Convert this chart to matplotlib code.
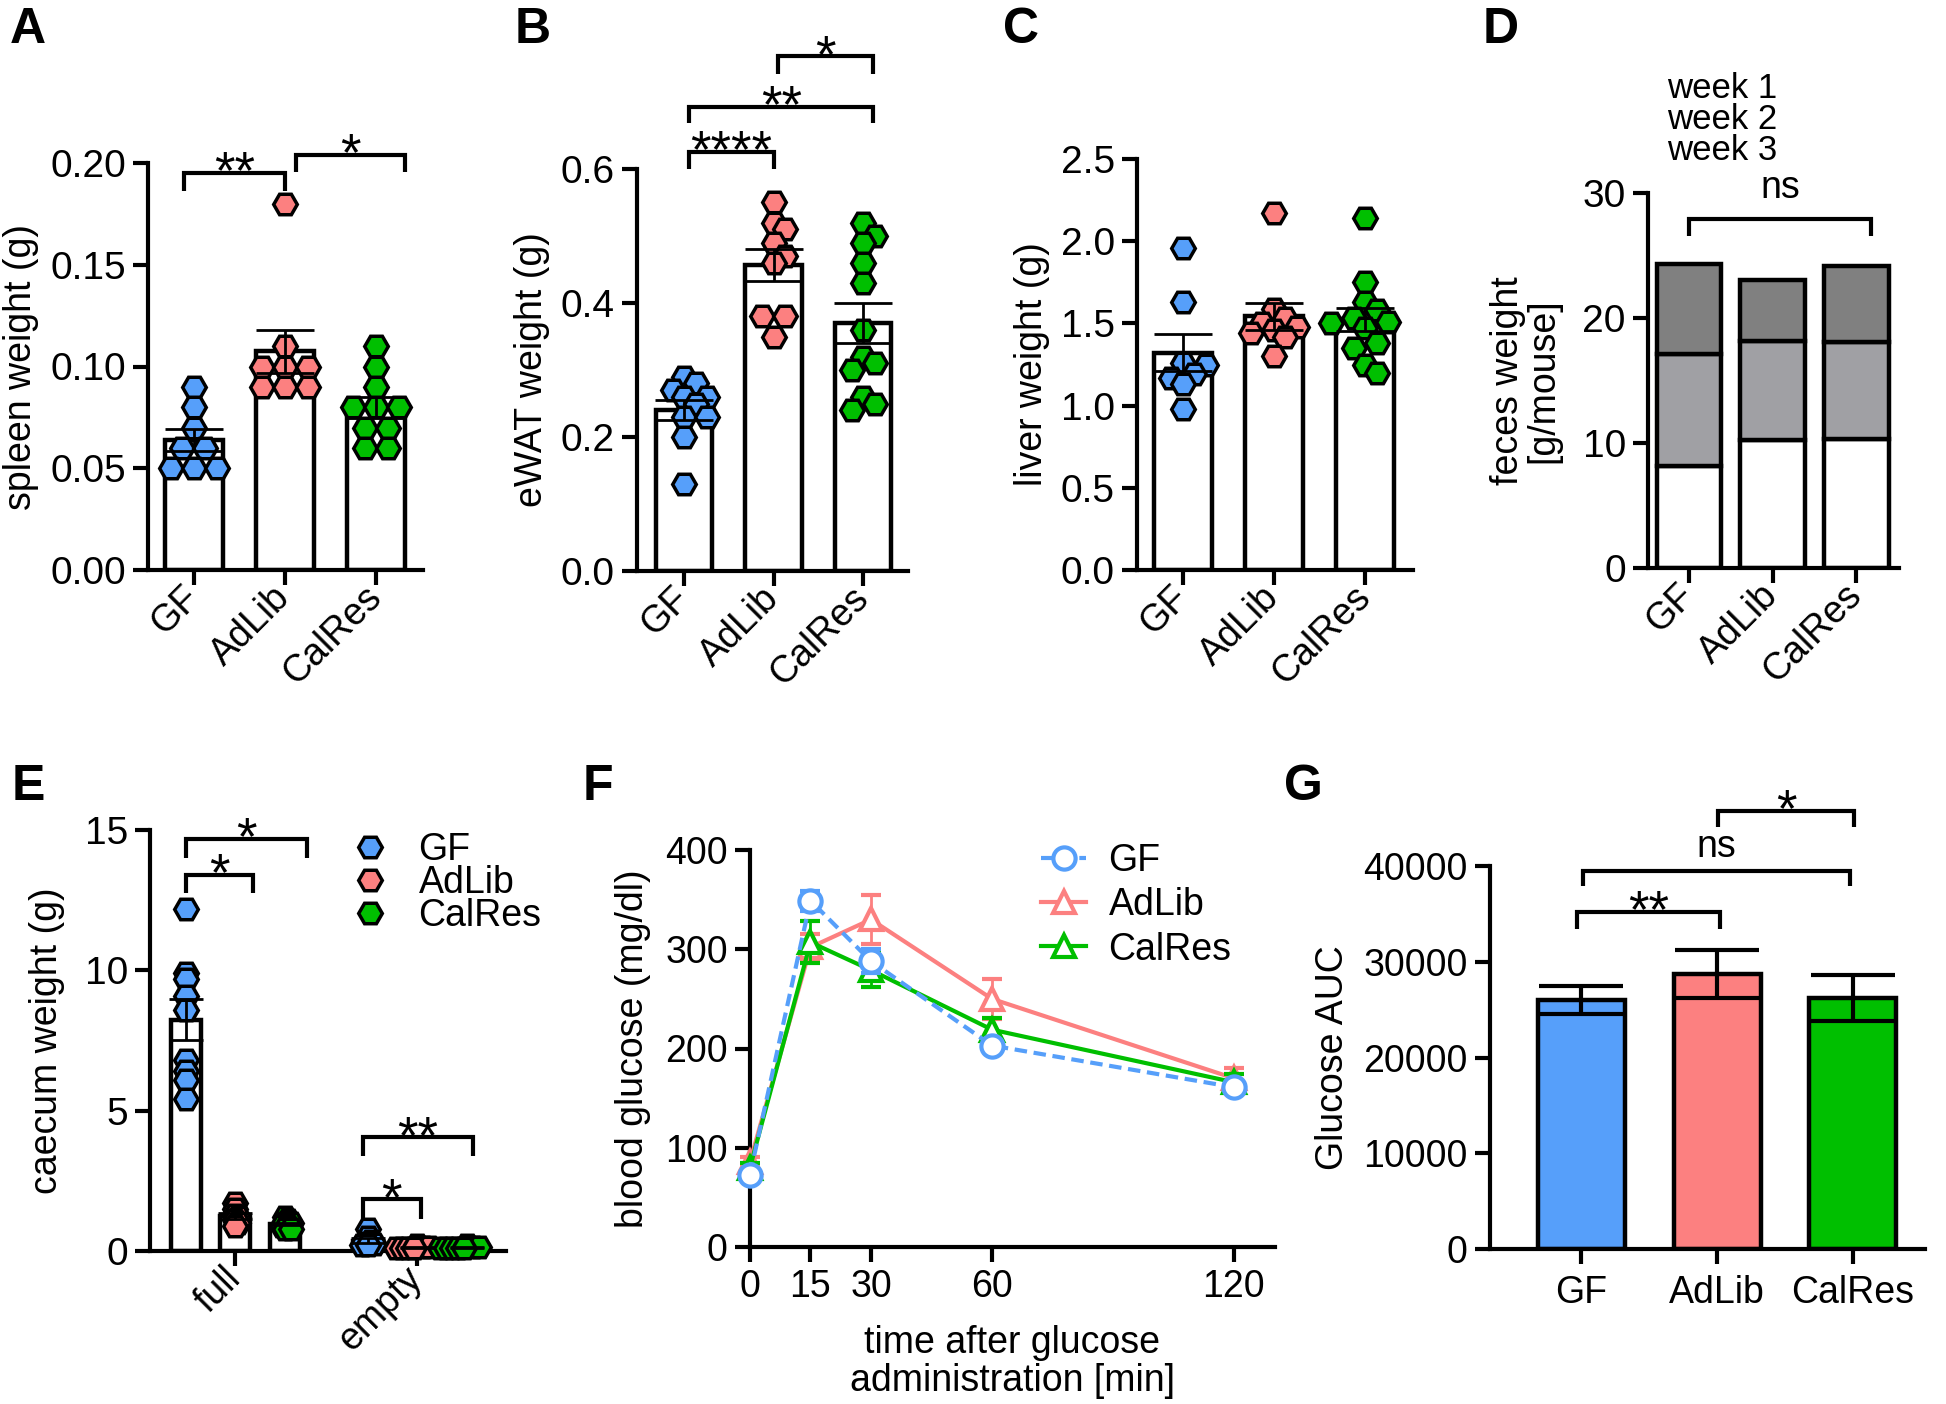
import numpy as np
import matplotlib
matplotlib.use('Agg')
import matplotlib.pyplot as plt
from matplotlib.lines import Line2D

plt.rcParams['font.family'] = ['Liberation Sans', 'DejaVu Sans']
plt.rcParams['font.size'] = 27
plt.rcParams['axes.linewidth'] = 3

groups = ['GF', 'AdLib', 'CalRes']
colors = ['#569ffa', '#fc8080', '#00bf00']

# A: spleen weight (g)
spleen_gf = [0.09, 0.08, 0.07, 0.06, 0.06, 0.05, 0.05, 0.05]
spleen_adlib = [0.18, 0.11, 0.10, 0.10, 0.10, 0.09, 0.09, 0.09]
spleen_calres = [0.11, 0.10, 0.09, 0.08, 0.08, 0.08, 0.07, 0.07, 0.06, 0.06]

# B: eWAT weight (g)
ewat_gf = [0.29, 0.28, 0.27, 0.26, 0.26, 0.25, 0.23, 0.23, 0.20, 0.13]
ewat_adlib = [0.55, 0.52, 0.51, 0.49, 0.47, 0.46, 0.38, 0.38, 0.35]
ewat_calres = [0.52, 0.50, 0.49, 0.46, 0.43, 0.36, 0.32, 0.31, 0.30, 0.26, 0.25, 0.24]

# C: liver weight (g)
liver_gf = [1.96, 1.63, 1.26, 1.25, 1.19, 1.17, 1.13, 0.98]
liver_adlib = [2.17, 1.59, 1.53, 1.50, 1.48, 1.46, 1.44, 1.42, 1.30]
liver_calres = [2.14, 1.75, 1.63, 1.58, 1.53, 1.51, 1.50, 1.47, 1.38, 1.35, 1.25, 1.20]

# D: feces weight per week (g/mouse)
week_labels = ['week 1', 'week 2', 'week 3']
feces_week1 = [8.2, 10.25, 10.35]
feces_week2 = [8.9, 7.9, 7.7]
feces_week3 = [7.2, 4.9, 6.1]
week_colors = ['white', '#a0a0a4', '#808080']

# E: caecum weight (g)
caecum_states = ['full', 'empty']
caecum_full = [
    [12.2, 9.9, 9.7, 9.1, 8.6, 6.8, 6.4, 6.1, 5.4],
    [1.7, 1.5, 1.3, 1.2, 1.1, 1.0, 0.9],
    [1.2, 1.1, 1.0, 1.0, 0.9, 0.9, 0.8, 0.8],
]
caecum_empty = [
    [0.8, 0.5, 0.35, 0.3, 0.25, 0.2, 0.2],
    [0.2, 0.15, 0.15, 0.1, 0.1, 0.1, 0.1],
    [0.2, 0.15, 0.15, 0.1, 0.1, 0.1, 0.1, 0.1],
]

# F: glucose tolerance test
gtt_time = [0, 15, 30, 60, 120]
gtt_gf = [73, 349, 288, 203, 161]
gtt_gf_sem = [4, 10, 12, 6, 5]
gtt_adlib = [86, 302, 330, 250, 170]
gtt_adlib_sem = [5, 13, 25, 20, 10]
gtt_calres = [80, 307, 279, 219, 166]
gtt_calres_sem = [5, 21, 17, 12, 8]

# G: glucose AUC
auc_mean = [26000, 28700, 26200]
auc_sem = [1500, 2500, 2400]

W, H = 1946, 1404
fig = plt.figure(figsize=(W / 100, H / 100), dpi=100)

HEX_MS = 17


def add_axes(left, top, right, bottom):
    return fig.add_axes([left / W, 1 - bottom / H, (right - left) / W, (bottom - top) / H])


def style(ax, ysize=27):
    ax.spines['top'].set_visible(False)
    ax.spines['right'].set_visible(False)
    ax.tick_params(width=3, length=11, pad=5, labelsize=27)
    ax.tick_params(axis='y', labelsize=ysize)


def collide(x1, y1, x2, y2, w, h):
    dx, dy = abs(x1 - x2), abs(y1 - y2)
    if dx >= w * 0.9 or dy >= h * 0.9:
        return False
    if dx >= w * 0.5 and dy >= h * 0.3:
        return False
    return True


def swarm(ax, xc, vals, w=23, h=20):
    # spread points sideways (in pixels) so the markers don't sit on each other
    t = ax.transData
    x0 = t.transform((xc, 0))[0]
    px = t.transform((xc + 1, 0))[0] - x0
    vals = np.asarray(vals, float)
    placed, xs, ys = [], [], []
    for v in sorted(set(vals), reverse=True):
        n = int(np.sum(vals == v))
        y = t.transform((0, v))[1]
        base = [(i - (n - 1) / 2) * w for i in range(n)]
        for k in range(60):
            m = (k + 1) // 2
            shift = m * w / 2 * (1 if k % 2 else -1)
            cand = [b + shift for b in base]
            if not any(collide(c, y, p[0], p[1], w, h) for c in cand for p in placed):
                break
        for c in cand:
            placed.append((c, y))
            xs.append(xc + c / px)
            ys.append(v)
    return xs, ys


def bracket(ax, x1, x2, y, leg, text, dy):
    ax.plot([x1, x1, x2, x2], [y - leg, y, y, y - leg], color='black', lw=3,
            clip_on=False, solid_joinstyle='miter', solid_capstyle='butt')
    star = set(text) == {'*'}
    ax.annotate(text, ((x1 + x2) / 2, y), xytext=(0, dy), textcoords='offset points',
                ha='center', va='baseline', fontsize=38 if star else 27,
                annotation_clip=False)


def rotate_xlabels(ax):
    for lab in ax.get_xticklabels():
        lab.set_rotation(45)
        lab.set_ha('right')
        lab.set_va('center')
        lab.set_rotation_mode('anchor')


def dot_bar(ax, data, xlim, ylim, yticks, fmt, ylabel):
    style(ax, 28)
    ax.set_xlim(*xlim)
    ax.set_ylim(*ylim)
    x = np.arange(len(data))
    means = [np.mean(d) for d in data]
    sems = [np.std(d, ddof=1) / np.sqrt(len(d)) for d in data]
    ax.bar(x, means, width=0.63, color='white', edgecolor='black', linewidth=3.2, zorder=2)
    for i, d in enumerate(data):
        xs, ys = swarm(ax, i, d)
        ax.plot(xs, ys, ls='none', marker='H', ms=HEX_MS, mfc=colors[i], mec='black',
                mew=2.5, zorder=3, clip_on=False)
    ax.errorbar(x, means, yerr=sems, fmt='none', ecolor='black', elinewidth=2,
                capsize=21, capthick=2, zorder=4)
    ax.set_yticks(yticks)
    ax.set_yticklabels([fmt.format(v) for v in yticks])
    ax.set_xticks(x)
    ax.set_xticklabels(groups)
    rotate_xlabels(ax)
    ax.set_ylabel(ylabel, labelpad=8)


# ---- A ----
axA = add_axes(148, 163, 423, 570)
dot_bar(axA, [spleen_gf, spleen_adlib, spleen_calres], (-0.505, 2.516), (0, 0.2),
        [0, 0.05, 0.10, 0.15, 0.20], '{:.2f}', 'spleen weight (g)')
bracket(axA, -0.11, 1.0, 0.195, 0.009, '**', -11)
bracket(axA, 1.12, 2.32, 0.204, 0.0085, '*', -11)

# ---- B ----
axB = add_axes(637, 169, 908, 571)
dot_bar(axB, [ewat_gf, ewat_adlib, ewat_calres], (-0.525, 2.50), (0, 0.6),
        [0, 0.2, 0.4, 0.6], '{:.1f}', 'eWAT weight (g)')
bracket(axB, 0.06, 1.0, 0.625, 0.025, '****', -11)
bracket(axB, 0.06, 2.11, 0.693, 0.025, '**', -11)
bracket(axB, 1.05, 2.11, 0.768, 0.026, '*', -11)

# ---- C ----
axC = add_axes(1137, 159, 1413, 570)
dot_bar(axC, [liver_gf, liver_adlib, liver_calres], (-0.505, 2.527), (0, 2.5),
        [0, 0.5, 1.0, 1.5, 2.0, 2.5], '{:.1f}', 'liver weight (g)')

# ---- D ----
axD = add_axes(1648, 193, 1899, 568)
style(axD, 28)
axD.set_xlim(-0.49, 2.51)
axD.set_ylim(0, 30)
xd = np.arange(3)
bottom = np.zeros(3)
for vals, col in zip([feces_week1, feces_week2, feces_week3], week_colors):
    axD.bar(xd, vals, bottom=bottom, width=0.77, color=col, edgecolor='black', linewidth=3.2)
    bottom = bottom + np.array(vals)
axD.set_yticks([0, 10, 20, 30])
axD.set_xticks(xd)
axD.set_xticklabels(groups)
rotate_xlabels(axD)
axD.set_ylabel('feces weight\n[g/mouse]', labelpad=15, linespacing=1.0)
bracket(axD, 0.0, 2.18, 27.9, 1.3, 'ns', 15)
for i, lab in enumerate(week_labels):
    fig.text(1667 / W, 1 - (89 + 30.5 * i) / H, lab, fontsize=25, va='center', ha='left')

# ---- E ----
axE = add_axes(150, 830, 506, 1251)
style(axE, 28)
axE.set_xlim(-1.72, 5.47)
axE.set_ylim(0, 15)
e_centers = [0, 3.68]
e_offsets = [-1, 0, 1]
for gi, cond in enumerate([caecum_full, caecum_empty]):
    for i, d in enumerate(cond):
        xpos = e_centers[gi] + e_offsets[i]
        m = np.mean(d)
        s = np.std(d, ddof=1) / np.sqrt(len(d))
        axE.bar(xpos, m, width=0.61, color='white', edgecolor='black', linewidth=3.2, zorder=2)
        xs, ys = swarm(axE, xpos, d, w=6, h=6)
        axE.plot(xs, ys, ls='none', marker='H', ms=HEX_MS, mfc=colors[i], mec='black',
                 mew=2.5, zorder=3, clip_on=False)
        axE.errorbar(xpos, m, yerr=s, fmt='none', ecolor='black', elinewidth=2,
                     capsize=12, capthick=2, zorder=4)
axE.set_yticks([0, 5, 10, 15])
axE.set_xticks(e_centers)
axE.set_xticklabels(caecum_states)
rotate_xlabels(axE)
axE.set_ylabel('caecum weight (g)', labelpad=14)
bracket(axE, -0.99, 0.36, 13.41, 0.66, '*', -11)
bracket(axE, -0.99, 1.46, 14.67, 0.68, '*', -11)
bracket(axE, 2.58, 3.75, 1.84, 0.71, '*', -11)
bracket(axE, 2.58, 4.81, 4.05, 0.65, '**', -11)
e_handles = [Line2D([], [], ls='none', marker='H', ms=HEX_MS, mfc=c, mec='black', mew=2.5)
             for c in colors]
axE.legend(e_handles, groups, loc='upper left', bbox_to_anchor=(351 / W, 1 - 832 / H),
           bbox_transform=fig.transFigure, frameon=False, borderpad=0, borderaxespad=0,
           handlelength=1.0, handletextpad=0.8, labelspacing=-0.08, fontsize=27)

# ---- F ----
axF = add_axes(750, 850, 1275, 1247)
style(axF)
axF.set_xlim(0, 130.2)
axF.set_ylim(0, 400)
line_kw = dict(lw=3, ms=16, mfc='white', mew=3)
axF.errorbar(gtt_time, gtt_adlib, yerr=gtt_adlib_sem, color=colors[1], marker='^',
             mec=colors[1], capsize=7, elinewidth=2, capthick=2, clip_on=False, zorder=3,
             **line_kw)
axF.errorbar(gtt_time, gtt_calres, yerr=gtt_calres_sem, color=colors[2], marker='^',
             mec=colors[2], capsize=7, elinewidth=2, capthick=2, clip_on=False, zorder=4,
             **line_kw)
axF.errorbar(gtt_time, gtt_gf, yerr=gtt_gf_sem, color=colors[0], ls='--', dashes=(3, 1.6),
             marker='o', mec=colors[0], capsize=7, elinewidth=2, capthick=2,
             clip_on=False, zorder=5, **line_kw)
axF.set_xticks(gtt_time)
axF.set_yticks([0, 100, 200, 300, 400])
axF.set_ylabel('blood glucose (mg/dl)', labelpad=10)
axF.set_xlabel('time after glucose\nadministration [min]', labelpad=14, linespacing=1.1)
f_handles = [
    Line2D([], [], color=colors[0], ls='--', dashes=(3, 1.6), marker='o', mec=colors[0], **line_kw),
    Line2D([], [], color=colors[1], marker='^', mec=colors[1], **line_kw),
    Line2D([], [], color=colors[2], marker='^', mec=colors[2], **line_kw),
]
axF.legend(f_handles, groups, loc='upper left', bbox_to_anchor=(1041 / W, 1 - 843 / H),
           bbox_transform=fig.transFigure, frameon=False, borderpad=0, borderaxespad=0,
           handlelength=1.2, handletextpad=0.6, labelspacing=0.22, fontsize=27)

# ---- G ----
axG = add_axes(1490, 866, 1925, 1249)
style(axG)
axG.set_xlim(-0.67, 2.53)
axG.set_ylim(0, 40000)
xg = np.arange(3)
axG.bar(xg, auc_mean, width=0.64, color=colors, edgecolor='black', linewidth=3.2, zorder=2)
axG.errorbar(xg, auc_mean, yerr=auc_sem, fmt='none', ecolor='black', elinewidth=3,
             capsize=30, capthick=3, zorder=3)
axG.set_yticks([0, 10000, 20000, 30000, 40000])
axG.set_xticks(xg)
axG.set_xticklabels(groups)
axG.tick_params(axis='x', pad=8)
axG.set_ylabel('Glucose AUC', labelpad=9)
bracket(axG, -0.03, 1.02, 35200, 1800, '**', -11)
bracket(axG, 0.016, 1.98, 39511, 1650, 'ns', 10)
bracket(axG, 1.01, 2.01, 45778, 1690, '*', -11)

# panel letters
for letter, (px, py) in zip('ABCDEFG', [(10, 43), (515, 43), (1003, 43), (1483, 43),
                                       (12, 800), (583, 800), (1284, 800)]):
    fig.text(px / W, 1 - py / H, letter, fontsize=36, fontweight='bold', va='baseline', ha='left')

fig.savefig('out.png', dpi=100)
